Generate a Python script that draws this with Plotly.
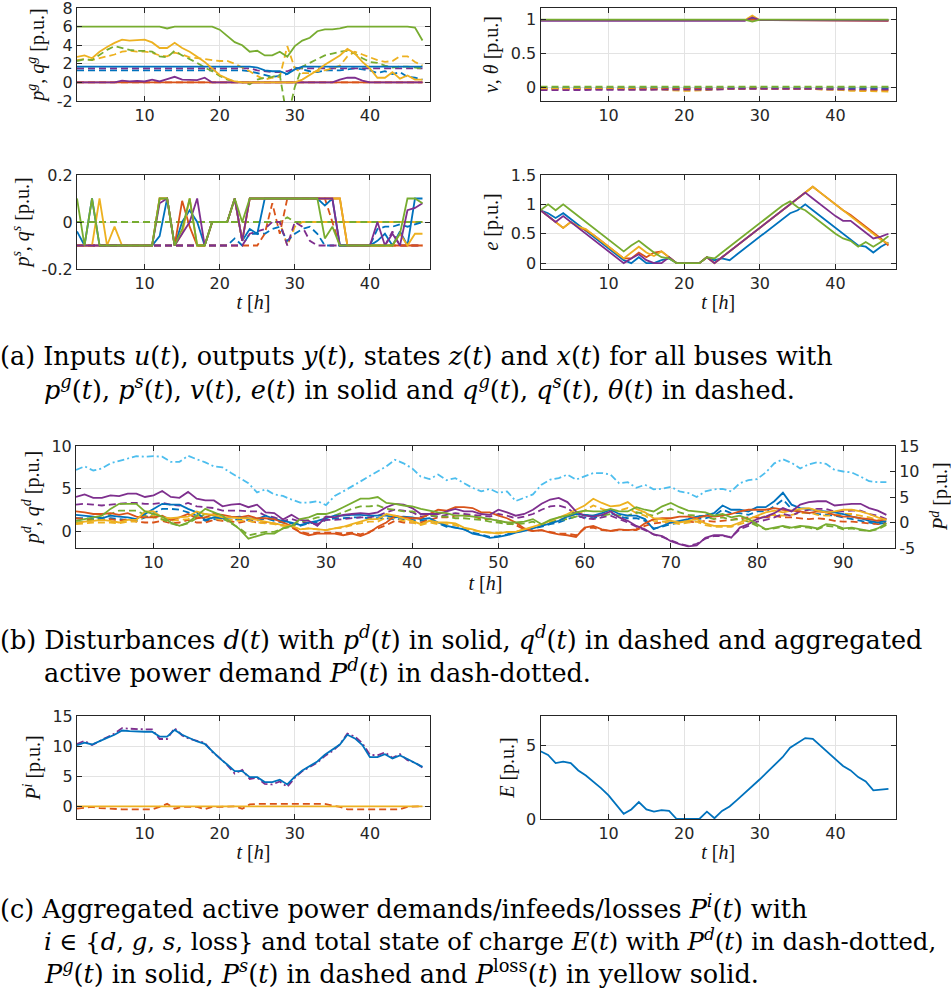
import plotly.graph_objects as go

# ---------------- data ----------------
t47 = list(range(1, 48))
t95 = list(range(1, 96))

# (a) p^g (solid) and q^g (dashed) per bus
pg_blue = [1.7,1.7,1.7,1.7,1.7,1.7,1.7,1.7,1.7,1.7, 1.7,1.7,1.7,1.7,1.7,1.7,1.7,1.7,1.7,1.7,
           1.7,1.7,1.7,1.7,1.6,1.3,1.2,1.2,0.9,1.4, 1.7,1.7,1.7,1.7,1.7,1.7,1.7,1.7,1.7,1.7,
           1.7,1.7,1.7,1.7,1.7,1.7,1.7]
pg_red = [0,0,0,0,0,0,0,0,0,0, 0,0,0,0,0,0,0,0,0,0, 0,0,0,0,0,0,0,0,0,0, 0,0,0,0,0,0,0,0,0,0, 0,0,0,0,0,0,0]
pg_yellow = [2.75,2.9,2.6,3.3,3.8,4.25,4.6,4.5,4.55,4.6, 4.3,3.7,3.7,4.25,3.7,3.3,2.75,2.2,1.5,0.8,
             0.4,0.1,0.0,0.0,0.0,0.0,0.0,0.0,0.0,0.0, 0.3,0.8,1.3,1.9,2.4,2.9,3.6,3.1,2.2,1.5,
             0.5,0.5,1.1,0.4,0.75,0.3,0.3]
pg_purple = [0,0,0,0,0,0,0.2,0.1,0.15,0.1, 0.3,0.1,0.35,0.6,0.3,0.25,0.25,0.5,0,0,
             0,0,0,0,0,0,0,0,0,0, 0,0,0,0,0,0.3,0.5,0.5,0.2,0, 0,0,0,0,0,0,0]
pg_green = [6,6,6,6,6,6,6,6,6,6, 6,6,5.8,6,6,6,6,6,6,5.67,
            5.0,4.33,4.0,3.3,3.4,2.9,2.9,3.3,2.75,3.9, 4.5,4.8,5.5,5.7,5.7,5.8,6,6,6,6,
            6,6,6,6,6,5.9,4.5]
qg_blue = [1.3,1.3,1.3,1.3,1.3,1.3,1.3,1.3,1.3,1.3, 1.3,1.3,1.3,1.3,1.3,1.3,1.3,1.3,1.3,1.3,
           1.3,1.3,1.3,1.2,1.0,0.8,0.6,0.7,0.9,1.6, 1.4,1.2,1.1,1.3,1.3,1.3,1.4,1.5,1.4,1.3,
           1.0,1.2,0.9,1.1,0.6,0.5,0.3]
qg_red = [0,0,0,0,0,0,0,0,0,0, 0,0,0,0,0,0,0,0,0,0, 0,0,0,0,0,0,0,0,0,0, 0,0,0,0,0,0,0,0,0,0, 0,0,0,0,0,0,0]
qg_yellow = [2.4,2.5,2.4,2.6,2.8,3.0,3.3,3.4,3.3,3.3, 3.2,2.9,2.8,3.2,3.0,2.7,2.6,2.5,2.4,2.3,
             2.3,2.0,1.6,1.2,0.7,0.3,0.5,0.6,3.9,1.5, 1.0,1.0,1.2,1.3,1.5,1.8,2.8,3.3,3.0,2.7,
             2.4,2.2,2.3,2.8,2.8,2.2,1.8]
qg_purple = [1.5,1.5,1.5,1.5,1.5,1.5,1.5,1.5,1.5,1.5, 1.5,1.5,1.5,1.5,1.5,1.5,1.5,1.5,1.5,1.5,
             1.5,1.5,1.5,1.5,1.3,1.2,1.1,1.1,1.2,1.5, 1.5,1.5,1.5,1.5,1.5,1.5,1.5,1.5,1.5,1.5,
             1.5,1.5,1.5,1.5,1.5,1.5,1.5]
qg_green = [2.3,2.5,2.4,3.0,3.5,3.9,3.7,3.5,3.4,3.4, 3.3,2.8,2.7,3.4,2.9,2.5,2.1,1.6,1.2,0.7,
            0.3,0.1,0.0,-0.2,0.3,0.5,0.6,0.8,-4.0,-0.5, 1.7,2.1,2.5,2.9,3.1,3.3,3.4,3.1,2.6,2.2,
            2.1,1.8,1.6,1.7,1.7,1.6,1.5]

# (a) v (solid) and theta (dashed)
v_blue = [0.99,0.99,0.99,0.99,0.99,0.99,0.99,0.99,0.99,0.99, 0.99,0.99,0.99,0.99,0.99,0.99,0.99,0.99,0.99,0.99,
          0.99,0.99,0.99,0.99,0.99,0.99,0.99,0.99,1.01,0.99, 0.99,0.99,0.99,0.99,0.99,0.99,0.99,0.99,0.99,0.99,
          0.99,0.99,0.99,0.99,0.99,0.99,0.99]
v_red = [0.99,0.99,0.99,0.99,0.99,0.99,0.99,0.99,0.99,0.99, 0.99,0.99,0.99,0.99,0.99,0.99,0.99,0.985,0.985,0.985,
         0.985,0.985,0.99,0.99,0.99,0.99,0.99,0.99,1.0,0.99, 0.99,0.99,0.99,0.99,0.99,0.99,0.99,0.99,0.985,0.985,
         0.985,0.98,0.98,0.98,0.98,0.98,0.98]
v_yellow = [0.99,0.99,0.99,0.99,0.99,0.99,0.99,0.99,0.99,0.995, 1.0,1.0,1.0,0.995,0.99,0.99,0.99,0.99,0.99,0.99,
            0.99,0.99,0.99,0.99,0.99,0.99,0.99,0.99,1.06,0.99, 0.99,0.99,0.99,0.99,0.99,0.99,0.99,0.99,0.99,0.99,
            0.99,0.99,0.99,0.99,0.99,0.99,0.99]
v_purple = [0.98,0.98,0.98,0.98,0.98,0.98,0.98,0.98,0.98,0.985, 0.985,0.98,0.98,0.985,0.98,0.98,0.98,0.98,0.98,0.98,
            0.98,0.98,0.98,0.98,0.98,0.98,0.98,0.98,1.03,0.99, 0.99,0.99,0.99,0.99,0.99,0.99,0.99,0.99,0.985,0.985,
            0.985,0.985,0.985,0.985,0.985,0.985,0.985]
v_green = [1.0,1.0,1.0,1.0,1.0,1.0,1.0,1.0,1.0,1.0, 1.0,1.0,1.0,1.0,1.0,1.0,1.0,1.0,1.0,1.0,
           1.0,1.0,1.0,1.0,1.0,1.0,1.0,1.0,0.97,1.0, 1.0,1.0,1.0,1.0,1.0,1.0,1.0,1.0,1.0,1.0,
           1.0,1.0,1.0,1.0,1.0,1.0,1.0]
th_blue = [-0.01,-0.01,-0.01,-0.01,-0.01,-0.01,-0.01,-0.01,-0.01,-0.01, -0.01,-0.01,-0.01,-0.01,-0.01,-0.01,-0.01,-0.01,-0.01,-0.01,
           -0.01,-0.01,-0.01,-0.01,-0.01,-0.01,-0.01,-0.01,-0.01,-0.01, -0.01,-0.01,-0.01,-0.01,-0.01,-0.01,-0.01,-0.01,-0.01,-0.01,
           -0.01,-0.01,-0.01,-0.01,-0.01,-0.01,-0.01]
th_red = [-0.02,-0.02,-0.02,-0.02,-0.02,-0.02,-0.02,-0.02,-0.02,-0.02, -0.02,-0.02,-0.02,-0.02,-0.02,-0.02,-0.02,-0.03,-0.03,-0.03,
          -0.03,-0.03,-0.02,-0.02,-0.02,-0.02,-0.02,-0.02,-0.01,-0.02, -0.02,-0.02,-0.02,-0.02,-0.02,-0.02,-0.02,-0.02,-0.03,-0.03,
          -0.03,-0.04,-0.04,-0.04,-0.04,-0.04,-0.04]
th_yellow = [-0.02,-0.02,-0.02,-0.02,-0.02,-0.02,-0.02,-0.02,-0.02,-0.02, -0.02,-0.02,-0.02,-0.02,-0.02,-0.02,-0.03,-0.04,-0.05,-0.05,
             -0.05,-0.05,-0.04,-0.03,-0.02,-0.02,-0.02,-0.02,-0.01,-0.02, -0.02,-0.02,-0.02,-0.02,-0.02,-0.02,-0.02,-0.03,-0.03,-0.04,
             -0.04,-0.05,-0.05,-0.06,-0.06,-0.06,-0.06]
th_purple = [-0.04,-0.04,-0.04,-0.04,-0.04,-0.04,-0.04,-0.04,-0.04,-0.04, -0.04,-0.04,-0.04,-0.04,-0.04,-0.04,-0.04,-0.04,-0.04,-0.04,
             -0.04,-0.04,-0.04,-0.03,-0.03,-0.02,-0.02,-0.02,-0.01,-0.02, -0.02,-0.02,-0.02,-0.02,-0.02,-0.02,-0.02,-0.02,-0.03,-0.03,
             -0.03,-0.03,-0.03,-0.03,-0.03,-0.03,-0.03]
th_green = [0.01,0.01,0.01,0.01,0.01,0.01,0.01,0.01,0.01,0.01, 0.01,0.01,0.01,0.01,0.01,0.01,0.01,0.01,0.01,0.01,
            0.01,0.01,0.01,0.01,0.01,0.01,0.01,0.0,0.0,0.0, 0.0,0.0,0.01,0.01,0.01,0.01,0.01,0.01,0.01,0.01,
            0.01,0.01,0.01,0.01,0.01,0.01,0.01]

# (a) p^s (solid) and q^s (dashed)
ps_blue = [-0.04,-0.1,0.1,-0.1,-0.1,-0.1,-0.1,-0.1,-0.1,-0.1, -0.1,-0.06,0.1,-0.1,0.0,0.05,0.0,-0.1,0.0,0.0,
           0.0,0.1,-0.08,-0.03,-0.05,0.1,0.1,0.1,0.1,0.1, 0.1,0.1,0.1,0.07,0.1,-0.1,-0.1,-0.1,-0.1,-0.1,
           -0.08,-0.05,-0.1,-0.04,-0.1,0.1,0.1]
ps_red = [-0.1,-0.1,-0.1,-0.1,-0.1,-0.1,-0.1,-0.1,-0.1,-0.1, -0.1,0.1,0.1,-0.1,0.09,-0.02,-0.1,-0.1,0.0,0.0,
          0.0,0.1,-0.08,0.1,0.1,0.1,0.1,0.1,0.1,0.1, 0.1,0.1,0.1,0.1,0.1,0.1,-0.1,-0.1,-0.1,-0.1,
          -0.1,-0.1,-0.1,-0.1,-0.1,-0.1,-0.1]
ps_yellow = [-0.1,-0.1,-0.1,0.1,-0.1,-0.02,-0.1,-0.1,-0.1,-0.1, -0.1,0.1,0.1,-0.1,-0.05,0.1,-0.1,-0.1,0.0,0.0,
             0.0,0.1,-0.08,0.1,0.1,0.1,0.1,0.1,0.1,0.1, 0.1,0.1,0.1,0.1,0.1,0.1,-0.1,-0.1,-0.1,-0.1,
             -0.1,-0.1,-0.1,-0.05,-0.1,-0.05,-0.05]
ps_purple = [-0.1,-0.1,-0.1,-0.1,-0.1,-0.1,-0.1,-0.1,-0.1,-0.1, -0.1,0.08,0.1,-0.1,-0.05,0.0,0.1,-0.1,0.0,0.0,
             0.0,0.1,-0.08,0.1,0.1,0.1,0.1,0.1,0.1,0.1, 0.1,0.1,0.1,0.1,0.1,-0.1,-0.1,-0.1,-0.1,-0.1,
             0.0,-0.1,-0.05,-0.1,0.05,0.06,0.08]
ps_green = [0.1,-0.1,0.1,-0.1,-0.1,-0.1,-0.1,-0.1,-0.1,-0.1, -0.1,0.1,0.1,-0.1,-0.03,0.1,-0.1,-0.1,0.0,0.0,
            0.0,0.1,0.0,0.1,0.1,0.1,0.1,0.1,0.1,0.1, 0.1,0.1,0.1,-0.07,-0.02,-0.1,-0.1,-0.1,-0.1,-0.1,
            -0.1,-0.1,-0.1,-0.05,0.1,0.1,0.08]
qs_blue = [-0.1,-0.1,-0.1,-0.1,-0.1,-0.1,-0.1,-0.1,-0.1,-0.1, -0.1,-0.1,-0.1,-0.1,-0.1,-0.1,-0.1,-0.1,-0.1,-0.1,
           -0.1,-0.07,-0.1,-0.05,-0.05,-0.05,-0.03,-0.02,-0.08,-0.05, -0.03,-0.02,-0.05,-0.1,-0.1,-0.1,-0.1,-0.1,-0.1,-0.1,
           -0.03,-0.02,-0.02,-0.01,-0.02,-0.01,0.0]
qs_red = [-0.1,-0.1,-0.1,-0.1,-0.1,-0.1,-0.1,-0.1,-0.1,-0.1, -0.1,-0.1,-0.1,-0.1,-0.1,-0.1,-0.1,-0.1,-0.1,-0.1,
          -0.1,-0.1,-0.1,-0.1,-0.1,-0.05,0.08,-0.05,0.1,0.1, 0.1,0.1,0.1,0.1,0.0,-0.1,-0.1,-0.1,-0.1,-0.1,
          -0.1,-0.1,-0.1,-0.1,-0.1,-0.1,-0.1]
qs_yellow = [0,0,0,0,0,0,0,0,0,0, 0,0,0,0,0,0,0,0,0,0, 0,0,0,0,0,0,0,0,-0.1,-0.02,
             0,0,0,0,0,0,0,0,0,0, 0,0,0,0,0,0,0]
qs_purple = [-0.1,-0.1,-0.1,-0.1,-0.1,-0.1,-0.1,-0.1,-0.1,-0.1, -0.1,-0.1,-0.1,-0.1,-0.1,-0.1,-0.1,-0.1,-0.1,-0.1,
             -0.1,-0.1,-0.1,-0.05,-0.04,-0.03,0.0,0.0,-0.1,0.0, -0.02,-0.08,-0.1,-0.1,-0.1,-0.1,-0.1,-0.1,-0.1,-0.1,
             -0.1,-0.1,-0.04,-0.1,-0.1,-0.1,-0.1]
qs_green = [0,0,0,0,0,0,0,0,0,0, 0,0,0,0,0,0,0,0,0,0, 0,0,0,0,0,0,0,0,0.02,0,
            0,0,0,0,0,0,0,0,0,0, 0,0,0,0,0,0,0]

# (a) state of charge e
e_blue = [0.9,0.85,0.77,0.85,0.75,0.65,0.55,0.45,0.35,0.25, 0.15,0.05,0.0,0.1,0.0,0.0,0.05,0.08,0.0,0.0,
          0.0,0.0,0.1,0.05,0.08,0.05,0.15,0.25,0.35,0.45, 0.55,0.65,0.75,0.85,0.9,1.0,0.9,0.8,0.7,0.6,
          0.5,0.4,0.3,0.28,0.18,0.28,0.35]
e_red = [0.9,0.8,0.7,0.6,0.7,0.62,0.56,0.48,0.38,0.28, 0.18,0.08,0.08,0.18,0.1,0.18,0.2,0.1,0.0,0.0,
         0.0,0.0,0.1,0.0,0.1,0.2,0.3,0.4,0.5,0.6, 0.7,0.8,0.9,1.0,1.1,1.2,1.3,1.2,1.1,1.0,
         0.9,0.82,0.72,0.62,0.52,0.42,0.3]
e_yellow = [0.9,0.8,0.7,0.6,0.7,0.62,0.58,0.48,0.38,0.28, 0.18,0.08,0.18,0.28,0.18,0.12,0.2,0.1,0.0,0.0,
            0.0,0.0,0.1,0.0,0.1,0.2,0.3,0.4,0.5,0.6, 0.7,0.8,0.9,1.0,1.1,1.2,1.3,1.2,1.1,1.0,
            0.9,0.8,0.7,0.6,0.5,0.4,0.33]
e_purple = [0.9,0.8,0.7,0.8,0.7,0.6,0.5,0.4,0.3,0.2, 0.1,0.0,0.08,0.15,0.05,0.0,0.0,0.1,0.0,0.0,
            0.0,0.0,0.1,0.0,0.1,0.2,0.3,0.4,0.5,0.6, 0.7,0.8,0.9,1.0,1.1,1.2,1.1,1.0,0.9,0.8,
            0.72,0.72,0.62,0.52,0.42,0.45,0.5]
e_green = [0.9,1.0,0.9,1.0,0.9,0.8,0.7,0.6,0.5,0.4, 0.3,0.2,0.3,0.38,0.28,0.18,0.1,0.08,0.0,0.0,
           0.0,0.0,0.1,0.08,0.18,0.28,0.38,0.48,0.58,0.68, 0.78,0.88,0.98,1.05,0.95,0.9,0.8,0.7,0.6,0.5,
           0.42,0.38,0.28,0.36,0.28,0.36,0.46]

# (b) disturbances
Pd_total = [10.3,11.0,10.2,10.6,11.6,12.1,12.6,13.0,12.9,13.0,
            12.9,11.9,11.9,13.1,12.4,11.8,11.0,10.8,9.7,8.7,
            7.7,5.9,6.5,5.5,5.2,4.5,3.9,3.9,4.2,3.4,
            5.2,6.1,7.1,8.1,9.0,10.0,11.0,12.3,11.6,10.6,
            9.0,8.5,9.4,8.3,8.7,7.7,6.8,6.1,6.6,5.8,
            6.1,4.2,4.8,5.5,7.4,8.4,8.7,9.4,8.4,9.0,
            9.7,9.7,9.4,7.7,7.9,6.8,7.4,6.5,6.6,7.0,
            6.1,5.8,5.0,6.1,6.5,6.6,6.1,7.7,8.3,8.5,
            9.8,11.6,12.4,11.7,10.6,11.4,11.8,11.5,10.3,10.0,
            9.8,9.0,8.1,7.9,7.9]
pd_purple = [4.0,4.3,3.9,3.9,4.2,4.1,4.4,4.4,4.0,4.2,
             4.7,4.0,3.9,4.6,3.8,3.6,3.6,2.9,3.1,3.2,
             2.8,3.1,2.2,2.1,1.35,1.9,1.3,1.2,0.6,1.7,
             1.6,1.9,2.0,2.1,2.0,2.2,2.8,3.2,3.1,2.7,
             2.0,2.0,2.0,2.3,2.6,2.3,2.3,2.0,1.9,2.5,
             2.2,1.8,2.0,2.5,3.2,3.7,3.9,3.4,2.3,1.8,
             1.7,1.9,2.3,1.6,1.2,0.6,0.2,-0.4,-0.6,-1.2,
             -1.55,-1.8,-1.7,-0.8,-0.5,-0.5,-0.8,0.4,0.8,1.4,
             1.7,2.1,2.7,2.3,3.1,3.4,3.5,3.5,3.0,3.1,
             3.2,3.2,2.7,2.4,1.9]
pd_blue = [1.9,1.8,1.7,1.5,1.8,1.7,1.6,1.4,2.0,2.6,
           3.2,3.1,3.1,2.6,2.2,1.3,1.6,1.5,1.6,1.7,
           1.5,1.4,1.8,1.4,1.2,1.0,0.7,1.0,1.2,1.5,
           1.8,1.8,1.9,1.9,1.8,1.8,1.8,1.6,1.7,1.6,
           1.4,1.5,1.0,0.6,0.4,0.2,-0.3,-0.5,-0.8,-0.7,
           -0.5,-0.2,0.0,0.3,0.6,0.9,1.2,1.7,2.0,1.9,
           1.8,2.1,2.5,2.0,1.8,1.8,1.4,0.2,0.6,1.0,
           1.2,1.4,1.7,1.8,2.1,3.0,2.5,2.5,2.3,2.8,
           2.8,3.5,4.5,3.1,2.7,2.6,2.4,2.3,2.2,2.0,
           1.7,1.5,1.2,1.0,1.2]
pd_red = [2.3,2.2,2.0,2.0,2.1,1.9,2.1,1.7,1.6,1.6,
          1.8,1.3,1.6,2.0,1.5,1.6,2.0,1.9,1.7,1.6,
          1.8,1.5,1.5,1.4,1.0,0.6,-0.2,-0.5,-0.3,-0.3,
          -0.3,-0.5,-0.3,-0.6,-0.2,0.5,1.0,1.8,1.6,1.5,
          1.5,2.0,2.5,2.4,2.8,2.8,2.7,2.2,2.2,1.8,
          1.5,1.0,0.3,0.0,0.1,-0.2,-0.4,-0.5,-0.7,0.4,
          0.6,0.2,0.0,0.2,0.1,0.2,0.9,1.4,1.5,1.5,
          1.7,1.7,1.5,1.8,1.7,1.8,2.0,2.3,2.5,2.5,
          2.5,2.7,2.5,2.4,2.3,2.1,2.3,2.2,1.9,1.7,
          1.7,1.5,1.4,1.2,1.4]
pd_green = [1.2,1.4,1.6,1.8,2.6,3.2,3.2,3.2,2.3,2.0,
            1.7,1.0,0.6,1.0,1.8,2.6,2.2,1.8,1.0,0.2,
            -0.9,-0.6,-0.3,-0.3,0.3,0.6,1.4,1.6,2.0,2.0,
            2.3,2.8,3.3,3.8,3.8,4.0,3.3,3.2,3.0,2.9,
            2.6,2.4,2.2,2.1,1.8,1.8,1.7,1.6,1.4,1.2,
            1.0,1.0,1.1,1.4,0.8,1.3,1.6,1.8,2.2,2.4,
            2.3,2.3,2.6,2.3,2.3,2.8,2.5,2.3,2.9,3.3,
            2.8,2.4,2.3,2.2,1.8,2.0,1.6,1.8,1.4,0.8,
            0.2,0.4,0.6,0.4,0.6,0.5,0.3,0.8,0.7,0.3,
            0.4,0.2,0.0,0.3,0.9]
pd_yellow = [0.9,1.1,1.2,1.3,1.2,1.0,1.3,1.3,2.3,2.3,
             1.6,1.5,1.6,1.7,2.3,2.0,1.9,1.6,1.6,1.5,
             1.5,1.3,1.1,0.9,0.7,0.6,0.2,0.3,0.2,0.1,
             0.3,0.5,0.8,1.1,1.4,1.4,2.0,1.8,1.5,1.2,
             0.8,1.2,1.0,1.0,0.9,0.4,0.2,-0.1,-0.2,-0.3,
             -0.1,-0.1,0.2,0.5,0.8,1.2,1.6,2.0,2.5,3.0,
             3.8,3.3,2.9,3.0,3.4,2.6,2.2,1.5,1.4,1.2,
             1.0,1.2,1.4,0.9,0.6,0.6,0.6,1.0,1.4,1.8,
             2.2,2.4,2.2,2.4,2.6,2.7,2.4,2.2,2.3,2.5,
             2.5,2.3,2.0,1.6,1.3]
qd_purple = [3.1,3.2,3.1,3.0,3.1,3.2,3.3,3.3,3.2,3.2,
             3.3,3.1,3.0,3.3,2.9,2.8,2.7,2.4,2.4,2.4,
             2.3,2.3,1.8,1.6,1.2,1.4,1.1,0.9,0.8,1.3,
             1.3,1.4,1.5,1.6,1.6,1.8,2.2,2.5,2.4,2.2,
             1.7,1.8,1.7,1.9,2.1,2.0,1.9,1.8,1.7,2.0,
             1.8,1.5,1.7,2.0,2.5,2.9,3.0,2.7,1.9,1.5,
             1.4,1.6,1.8,1.4,1.0,0.5,0.1,-0.4,-0.7,-1.1,
             -1.5,-1.75,-1.5,-0.9,-0.6,-0.6,-0.7,0.2,0.6,1.1,
             1.3,1.6,2.0,1.8,2.3,2.5,2.6,2.6,2.3,2.3,
             2.4,2.4,2.0,1.8,1.4]
qd_blue = [1.5,1.5,1.4,1.3,1.5,1.4,1.3,1.2,1.6,2.1,
           2.6,2.6,2.5,2.2,1.8,1.2,1.4,1.3,1.3,1.4,
           1.3,1.2,1.5,1.2,1.0,0.9,0.6,0.9,1.0,1.3,
           1.5,1.5,1.6,1.6,1.5,1.5,1.5,1.4,1.4,1.3,
           1.2,1.3,0.9,0.5,0.4,0.2,-0.2,-0.4,-0.7,-0.6,
           -0.4,-0.1,0.0,0.3,0.5,0.8,1.0,1.4,1.7,1.6,
           1.5,1.8,2.1,1.7,1.5,1.5,1.2,0.3,0.5,0.8,
           1.0,1.2,1.4,1.5,1.8,2.5,2.1,2.1,1.9,2.3,
           2.3,2.9,3.7,2.6,2.2,2.1,2.0,1.9,1.8,1.6,
           1.4,1.2,1.0,0.8,1.0]
qd_red = [1.5,1.4,1.3,1.3,1.4,1.2,1.4,1.1,1.0,1.0,
          1.2,0.9,1.0,1.3,1.0,1.0,1.3,1.2,1.1,1.0,
          1.2,1.0,1.0,0.9,0.7,0.4,-0.1,-0.3,-0.2,-0.2,
          -0.2,-0.3,-0.2,-0.4,-0.1,0.3,0.7,1.2,1.0,1.0,
          1.0,1.3,1.6,1.6,1.8,1.8,1.8,1.4,1.4,1.2,
          1.0,0.7,0.2,0.0,0.1,-0.1,-0.3,-0.3,-0.5,0.3,
          0.4,0.1,0.0,0.1,0.1,0.1,0.6,0.9,1.0,1.0,
          1.1,1.1,1.0,1.2,1.1,1.2,1.3,1.5,1.6,1.6,
          1.6,1.8,1.6,1.6,1.5,1.4,1.5,1.4,1.2,1.1,
          1.1,1.0,0.9,0.8,0.9]
qd_green = [1.0,1.1,1.3,1.5,2.0,2.4,2.4,2.4,1.9,1.6,
            1.4,0.9,0.6,0.9,1.5,2.0,1.8,1.5,0.9,0.3,
            -0.5,-0.3,-0.1,-0.1,0.3,0.5,1.1,1.3,1.6,1.6,
            1.8,2.2,2.6,2.9,2.9,3.0,2.6,2.5,2.3,2.3,
            2.0,1.9,1.7,1.7,1.5,1.5,1.4,1.3,1.1,1.0,
            0.8,0.8,0.9,1.1,0.7,1.0,1.3,1.4,1.7,1.9,
            1.8,1.8,2.0,1.8,1.8,2.2,2.0,1.8,2.3,2.6,
            2.2,1.9,1.8,1.7,1.4,1.6,1.3,1.4,1.1,0.6,
            0.2,0.3,0.5,0.3,0.5,0.4,0.2,0.6,0.5,0.2,
            0.3,0.1,0.0,0.2,0.7]
qd_yellow = [0.8,0.9,1.0,1.0,1.0,0.9,1.1,1.1,1.8,1.8,
             1.3,1.2,1.3,1.4,1.8,1.6,1.5,1.3,1.3,1.2,
             1.2,1.0,0.9,0.8,0.6,0.5,0.2,0.3,0.2,0.1,
             0.3,0.4,0.7,0.9,1.1,1.1,1.6,1.5,1.2,1.0,
             0.7,1.0,0.8,0.8,0.7,0.3,0.1,-0.1,-0.2,-0.2,
             -0.1,-0.1,0.2,0.4,0.7,1.0,1.3,1.6,2.0,2.4,
             3.0,2.6,2.3,2.4,2.7,2.1,1.8,1.2,1.1,1.0,
             0.8,1.0,1.1,0.7,0.5,0.5,0.5,0.8,1.1,1.4,
             1.8,1.9,1.8,1.9,2.1,2.2,1.9,1.8,1.8,2.0,
             2.0,1.8,1.6,1.3,1.0]

# (c) aggregated quantities
Pg_agg = [10.2,10.6,10.3,10.9,11.4,11.9,12.6,12.5,12.4,12.4,
          12.4,11.6,11.6,12.7,11.9,11.3,10.8,10.4,9.2,8.0,
          7.0,5.9,5.9,4.9,4.9,4.1,4.1,4.5,3.7,5.0,
          6.0,6.8,7.5,8.6,9.4,10.3,11.9,11.3,10.2,8.2,
          8.2,8.7,8.0,8.5,7.9,7.3,6.6]
Pd_agg = [10.4,10.9,10.2,10.9,11.5,12.1,13.0,12.9,12.8,12.8,
          12.8,11.2,11.2,13.0,11.8,11.2,10.9,10.6,9.1,8.1,
          6.9,5.5,6.1,4.6,4.8,3.8,3.7,4.2,3.3,4.8,
          5.9,6.6,7.3,8.4,9.2,10.3,12.1,11.6,10.5,8.6,
          8.5,9.0,8.1,8.7,7.7,7.3,6.5]
Ps_agg = [-0.3,-0.2,0.0,-0.2,-0.3,-0.4,-0.4,-0.4,-0.4,-0.4,
          -0.4,0.0,0.5,-0.3,0.0,0.0,0.0,-0.4,0.0,0.0,
          0.0,0.1,-0.3,0.4,0.5,0.5,0.5,0.5,0.5,0.5,
          0.5,0.5,0.5,0.5,0.2,0.0,-0.4,-0.4,-0.4,-0.4,
          -0.4,-0.3,-0.3,-0.4,0.0,0.1,0.1]
Ploss_agg = [0.1,0.1,0.1,0.1,0.1,0.1,0.11,0.11,0.11,0.11,
             0.11,0.1,0.1,0.11,0.1,0.1,0.1,0.1,0.09,0.08,
             0.07,0.06,0.06,0.05,0.05,0.05,0.05,0.05,0.05,0.05,
             0.06,0.07,0.07,0.08,0.09,0.1,0.11,0.11,0.1,0.08,
             0.08,0.08,0.08,0.08,0.08,0.07,0.07]
E_total = [4.6,4.35,3.8,3.9,3.8,3.3,2.95,2.55,2.1,1.6,
           1.0,0.35,0.65,1.15,0.65,0.5,0.6,0.55,0.0,0.0,
           0.0,0.0,0.5,0.05,0.55,0.85,1.3,1.75,2.25,2.7,
           3.2,3.7,4.2,4.85,5.15,5.5,5.45,5.0,4.55,4.1,
           3.6,3.3,2.85,2.55,1.95,2.0,2.05]

# ---------------- style ----------------
C = {"blue": "#0072BD", "red": "#D95319", "yellow": "#EDB120",
     "purple": "#7E2F8E", "green": "#77AC30", "lblue": "#4DBEEE"}
DASH = "7px,4px"
DASHDOT = "7px,3px,2px,3px"
LW = 1.8
W, H = 951, 1001
AX = "#262626"
GRID = "#e3e3e3"
TICKFONT = dict(family="DejaVu Sans, Liberation Sans, sans-serif", size=16, color=AX)
TITLEFONT = dict(family="Liberation Serif, Times New Roman, serif", size=20, color="#111111")

fig = go.Figure()


def add(xa, ya, x, y, color, dash="solid"):
    fig.add_trace(go.Scatter(x=x, y=y, xaxis=xa, yaxis=ya, mode="lines",
                             line=dict(color=C[color], width=LW, dash=dash),
                             showlegend=False, hoverinfo="skip"))


# panel 1
for y, c in [(qg_red, "red"), (qg_blue, "blue"), (qg_purple, "purple"), (qg_yellow, "yellow"), (qg_green, "green")]:
    add("x", "y", t47, y, c, DASH)
for y, c in [(pg_red, "red"), (pg_purple, "purple"), (pg_blue, "blue"), (pg_yellow, "yellow"), (pg_green, "green")]:
    add("x", "y", t47, y, c)
# panel 2
for y, c in [(th_blue, "blue"), (th_red, "red"), (th_yellow, "yellow"), (th_purple, "purple"), (th_green, "green")]:
    add("x2", "y2", t47, y, c, DASH)
for y, c in [(v_blue, "blue"), (v_red, "red"), (v_yellow, "yellow"), (v_purple, "purple"), (v_green, "green")]:
    add("x2", "y2", t47, y, c)
# panel 3
for y, c in [(qs_yellow, "yellow"), (qs_green, "green"), (qs_blue, "blue"), (qs_red, "red"), (qs_purple, "purple")]:
    add("x3", "y3", t47, y, c, DASH)
for y, c in [(ps_blue, "blue"), (ps_red, "red"), (ps_yellow, "yellow"), (ps_purple, "purple"), (ps_green, "green")]:
    add("x3", "y3", t47, y, c)
# panel 4
for y, c in [(e_blue, "blue"), (e_red, "red"), (e_yellow, "yellow"), (e_purple, "purple"), (e_green, "green")]:
    add("x4", "y4", t47, y, c)
# panel 5
for y, c in [(qd_blue, "blue"), (qd_red, "red"), (qd_yellow, "yellow"), (qd_purple, "purple"), (qd_green, "green")]:
    add("x5", "y5", t95, y, c, DASH)
for y, c in [(pd_blue, "blue"), (pd_red, "red"), (pd_yellow, "yellow"), (pd_purple, "purple"), (pd_green, "green")]:
    add("x5", "y5", t95, y, c)
add("x5", "y8", t95, Pd_total, "lblue", DASHDOT)
# panel 6
add("x6", "y6", t47, Ps_agg, "red", DASH)
add("x6", "y6", t47, Ploss_agg, "yellow")
add("x6", "y6", t47, Pd_agg, "purple", DASHDOT)
add("x6", "y6", t47, Pg_agg, "blue")
# panel 7
add("x7", "y7", t47, E_total, "blue")


def dom_x(a, b):
    return [a / W, b / W]


def dom_y(top, bot):
    return [1 - bot / H, 1 - top / H]


def xax(domain, anchor, rng, tickvals, title=None):
    d = dict(domain=domain, anchor=anchor, range=rng, tickvals=tickvals,
             ticktext=[str(v) for v in tickvals], showgrid=True, gridcolor=GRID,
             gridwidth=1, zeroline=False, showline=True, linecolor=AX, linewidth=1,
             mirror="ticks", ticks="inside", ticklen=5, tickcolor=AX,
             tickfont=TICKFONT, automargin=False, ticklabeloverflow="allow")
    if title:
        d["title"] = dict(text=title, font=TITLEFONT, standoff=2)
    return d


def yax(domain, anchor, rng, tickvals, ticktext, title, mirror="ticks"):
    return dict(domain=domain, anchor=anchor, range=rng, tickvals=tickvals,
                ticktext=ticktext, showgrid=True, gridcolor=GRID, gridwidth=1,
                zeroline=False, showline=True, linecolor=AX, linewidth=1,
                mirror=mirror, ticks="inside", ticklen=5, tickcolor=AX,
                tickfont=TICKFONT, automargin=False, ticklabeloverflow="allow",
                title=dict(text=title, font=TITLEFONT, standoff=6))


TX = "<i>t</i> [<i>h</i>]"
XL = dom_x(77, 430)
XR = dom_x(540.5, 896)
ticks47 = [10, 20, 30, 40]

layout = dict(
    width=W, height=H, margin=dict(l=0, r=0, t=0, b=0, autoexpand=False),
    paper_bgcolor="white", plot_bgcolor="white", showlegend=False,
    xaxis=xax(XL, "y", [1, 48], ticks47),
    yaxis=yax(dom_y(8, 101), "x", [-2, 8], [-2, 0, 2, 4, 6, 8], ["-2", "0", "2", "4", "6", "8"],
              "<i>p<sup>g</sup></i>, <i>q<sup>g</sup></i> [p.u.]"),
    xaxis2=xax(XR, "y2", [1, 48], ticks47),
    yaxis2=yax(dom_y(8, 101), "x2", [-0.2, 1.17], [0, 0.5, 1], ["0", "0.5", "1"],
               "<i>v</i>, <i>θ</i> [p.u.]"),
    xaxis3=xax(XL, "y3", [1, 48], ticks47, TX),
    yaxis3=yax(dom_y(175, 269), "x3", [-0.2, 0.2], [-0.2, 0, 0.2], ["-0.2", "0", "0.2"],
               "<i>p<sup>s</sup></i>, <i>q<sup>s</sup></i> [p.u.]"),
    xaxis4=xax(XR, "y4", [1, 48], ticks47, TX),
    yaxis4=yax(dom_y(175, 269), "x4", [-0.1, 1.5], [0, 0.5, 1, 1.5], ["0", "0.5", "1", "1.5"],
               "<i>e</i> [p.u.]"),
    xaxis5=xax(dom_x(76, 895), "y5", [1, 96], [10, 20, 30, 40, 50, 60, 70, 80, 90], TX),
    yaxis5=yax(dom_y(446, 548), "x5", [-2, 10], [0, 5, 10], ["0", "5", "10"],
               "<i>p<sup>d</sup></i>, <i>q<sup>d</sup></i> [p.u.]", mirror=False),
    yaxis8=dict(overlaying="y5", side="right", anchor="x5", range=[-5, 15],
                tickvals=[-5, 0, 5, 10, 15], ticktext=["-5", "0", "5", "10", "15"],
                showgrid=False, zeroline=False, showline=True, linecolor=AX, linewidth=1,
                ticks="inside", ticklen=5, tickcolor=AX, tickfont=TICKFONT,
                automargin=False, ticklabeloverflow="allow"),
    xaxis6=xax(XL, "y6", [1, 48], ticks47, TX),
    yaxis6=yax(dom_y(716, 819), "x6", [-2, 15], [0, 5, 10, 15], ["0", "5", "10", "15"],
               "<i>P<sup>i</sup></i> [p.u.]"),
    xaxis7=xax(XR, "y7", [1, 48], ticks47, TX),
    yaxis7=yax(dom_y(716, 819), "x7", [0, 7], [0, 5], ["0", "5"],
               "<i>E</i> [p.u.]"),
)
fig.update_layout(**layout)

# right-axis title of panel (b)
fig.add_annotation(x=940 / W, y=1 - 497 / H, xref="paper", yref="paper",
                   xanchor="center", yanchor="middle", textangle=-90, showarrow=False,
                   text="<i>P<sup>d</sup></i> [p.u.]", font=TITLEFONT)

captions = [
    (-2, 356, 25.5, "(a) Inputs <i>u</i>(<i>t</i>), outputs <i>y</i>(<i>t</i>), states <i>z</i>(<i>t</i>) and <i>x</i>(<i>t</i>) for all buses with"),
    (42, 388, 25.5, "<i>p<sup>g</sup></i>(<i>t</i>), <i>p<sup>s</sup></i>(<i>t</i>), <i>v</i>(<i>t</i>), <i>e</i>(<i>t</i>) in solid and <i>q<sup>g</sup></i>(<i>t</i>), <i>q<sup>s</sup></i>(<i>t</i>), <i>θ</i>(<i>t</i>) in dashed."),
    (-2, 638, 25.5, "(b) Disturbances <i>d</i>(<i>t</i>) with <i>p<sup>d</sup></i>(<i>t</i>) in solid, <i>q<sup>d</sup></i>(<i>t</i>) in dashed and aggregated"),
    (42, 671, 25.5, "active power demand <i>P<sup>d</sup></i>(<i>t</i>) in dash-dotted."),
    (-2, 907, 25.5, "(c) Aggregated active power demands/infeeds/losses <i>P<sup>i</sup></i>(<i>t</i>) with"),
    (42, 940, 24.3, "<i>i</i> ∈ {<i>d</i>, <i>g</i>, <i>s</i>, loss} and total state of charge <i>E</i>(<i>t</i>) with <i>P<sup>d</sup></i>(<i>t</i>) in dash-dotted,"),
    (42, 972, 25.5, "<i>P<sup>g</sup></i>(<i>t</i>) in solid, <i>P<sup>s</sup></i>(<i>t</i>) in dashed and <i>P</i><sup>loss</sup>(<i>t</i>) in yellow solid."),
]
for px, py, fs, txt in captions:
    fig.add_annotation(x=px / W, y=1 - py / H, xref="paper", yref="paper",
                       xanchor="left", yanchor="middle", text=txt, showarrow=False,
                       font=dict(family="DejaVu Serif, Liberation Serif, serif", size=fs, color="black"),
                       align="left")

# remove the default 8px page margin so the figure sits at the window origin
fig.write_html("out.html", config={"displayModeBar": False},
               post_script="document.body.style.margin='0px';")
